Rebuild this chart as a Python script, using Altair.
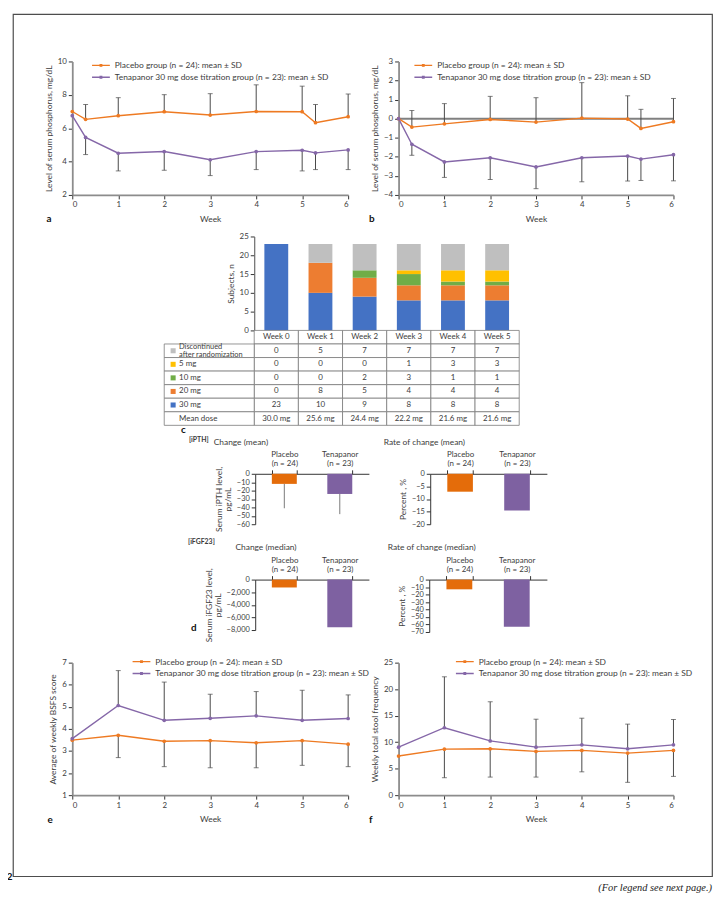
import altair as alt
import pandas as pd

FONT = "Lato"
TEXT = "#3c3c3c"
AXIS = "#6a6a6a"
ERR = "#484848"
ORANGE = "#EE7A22"
PURPLE = "#8567A8"
W, H = 707, 872

# ---------------- data ----------------
groups = ["Placebo group (n = 24): mean ± SD",
          "Tenapanor 30 mg dose titration group (n = 23): mean ± SD"]

weeks_ab = [0, 0.29, 1, 2, 3, 4, 5, 5.29, 6]
a_placebo = [7.0, 6.53, 6.75, 6.99, 6.79, 7.0, 6.99, 6.33, 6.69]
a_placebo_sd = [None, 0.89, 1.08, 1.02, 1.28, 1.6, 1.53, 1.09, 1.36]
a_tena = [6.75, 5.45, 4.5, 4.6, 4.11, 4.6, 4.68, 4.52, 4.7]
a_tena_sd = [None, 1.03, 1.06, 1.12, 0.95, 1.08, 1.24, 1.0, 1.18]

b_placebo = [0, -0.44, -0.27, -0.04, -0.18, 0.03, -0.02, -0.51, -0.16]
b_placebo_sd = [None, 0.87, 1.06, 1.21, 1.28, 1.86, 1.22, 1.0, 1.22]
b_tena = [0, -1.34, -2.27, -2.05, -2.53, -2.05, -1.96, -2.12, -1.89]
b_tena_sd = [None, 0.58, 0.81, 1.14, 1.14, 1.26, 1.31, 1.12, 1.37]

weeks_ef = [0, 1, 2, 3, 4, 5, 6]
e_placebo = [3.49, 3.71, 3.44, 3.47, 3.37, 3.47, 3.31]
e_placebo_sd = [None, 1.01, 1.15, 1.23, 1.13, 1.12, 1.02]
e_tena = [3.56, 5.06, 4.39, 4.48, 4.59, 4.39, 4.47]
e_tena_sd = [None, 1.58, 1.73, 1.09, 1.10, 1.36, 1.07]

f_placebo = [7.38, 8.68, 8.75, 8.25, 8.44, 7.94, 8.44]
f_placebo_sd = [None, 5.39, 5.34, 4.84, 4.04, 5.52, 4.9]
f_tena = [9.06, 12.72, 10.24, 9.06, 9.49, 8.75, 9.49]
f_tena_sd = [None, 9.61, 7.38, 5.27, 5.03, 4.65, 4.78]

weeks_c = ["Week 0", "Week 1", "Week 2", "Week 3", "Week 4", "Week 5"]
dose_labels = ["30 mg", "20 mg", "10 mg", "5 mg", "Discontinued after randomization"]
dose_colors = ["#4472C4", "#ED7D31", "#70AD47", "#FFC000", "#BFBFBF"]
n_30 = [23, 10, 9, 8, 8, 8]
n_20 = [0, 8, 5, 4, 4, 4]
n_10 = [0, 0, 2, 3, 1, 1]
n_5 = [0, 0, 0, 1, 3, 3]
n_disc = [0, 5, 7, 7, 7, 7]
mean_dose = ["30.0 mg", "25.6 mg", "24.4 mg", "22.2 mg", "21.6 mg", "21.6 mg"]

d_groups = ["Placebo", "Tenapanor"]
d_n = [24, 23]
ipth_change = [-12, -24]
ipth_change_sd = [29, 24]
ipth_rate = [-7.1, -14.6]
fgf_change = [-1250, -7550]
fgf_rate = [-13, -63]

# ---------------- helpers ----------------
# legend glyph: a line (wider than the nominal symbol box) with a small marker in the middle
SYM = "M-1.8,0L1.8,0M-0.15,-0.15L0.15,-0.15L0.15,0.15L-0.15,0.15Z"


def line_panel(weeks, pl, pl_sd, te, te_sd, dirs, xr, ydom, yr, yticks, ytitle, lx, ly, zero_line=False):
    rows = []
    for g, vals, sds, d in zip(groups, (pl, te), (pl_sd, te_sd), dirs):
        for w, v, s in zip(weeks, vals, sds):
            rows.append({"week": w, "value": v, "group": g,
                         "end": (v + d * s) if s is not None else None})
    df = pd.DataFrame(rows)
    err = df[df["end"].notna()]
    caps = err.assign(value=err["end"])
    xs = alt.Scale(domain=[0, 6], range=xr, nice=False, zero=False)
    ys = alt.Scale(domain=ydom, range=yr, nice=False, zero=False)
    x = alt.X("week:Q", scale=xs,
              axis=alt.Axis(orient="bottom", offset=yr[0] - H, values=list(range(7)),
                            title="Week", format="d", titlePadding=6,
                            domainColor="#8c8c8c", domainWidth=1.8))
    y = alt.Y("value:Q", scale=ys,
              axis=alt.Axis(orient="left", offset=-xr[0], values=yticks, title=ytitle, format="d",
                            domainColor="#8c8c8c", domainWidth=1.8))
    color = alt.Color("group:N", scale=alt.Scale(domain=groups, range=[ORANGE, PURPLE]),
                      legend=alt.Legend(orient="none", legendX=lx + 4, legendY=ly, title=None,
                                        symbolType=SYM, symbolSize=100, symbolStrokeWidth=1.4,
                                        labelFont=FONT, labelFontSize=8.5, labelColor=TEXT,
                                        labelOffset=8, rowPadding=1, padding=0, labelLimit=400))
    layers = []
    if zero_line:
        zdf = pd.DataFrame({"week": [0], "week2": [6], "value": [0]})
        layers.append(alt.Chart(zdf).mark_rule(color="#808080", strokeWidth=2).encode(
            x=x, x2="week2:Q", y=y))
    layers.append(alt.Chart(err).mark_rule(color=ERR, strokeWidth=1).encode(x=x, y=y, y2="end:Q"))
    layers.append(alt.Chart(caps).mark_tick(color=ERR, orient="horizontal", size=5, thickness=1).encode(
        x=x, y=y))
    layers.append(alt.Chart(df).mark_line(strokeWidth=1.4).encode(x=x, y=y, color=color))
    layers.append(alt.Chart(df).mark_point(filled=True, size=14, opacity=1).encode(x=x, y=y, color=color))
    return alt.layer(*layers)


def d_panel(vals, sds, xr, ydom, yr, yticks, fmt, ytitle):
    labels = [f"{g}\n(n = {n})" for g, n in zip(d_groups, d_n)]
    df = pd.DataFrame({"grp": labels, "value": vals,
                       "end": [v - s for v, s in zip(vals, sds)] if sds else vals})
    xs = alt.Scale(domain=labels, range=xr, paddingInner=0.55, paddingOuter=0.3)
    ys = alt.Scale(domain=ydom, range=yr, nice=False, zero=False)
    x = alt.X("grp:N", scale=xs, sort=labels,
              axis=alt.Axis(orient="top", offset=-yr[1], tickBand="extent", labelAngle=0,
                            labelExpr="split(datum.label, '\\n')", title=None,
                            labelLineHeight=9, labelPadding=11, labelFontSize=8,
                            domainColor="#333", tickColor="#333", domainWidth=1))
    y = alt.Y("value:Q", scale=ys,
              axis=alt.Axis(orient="left", offset=-xr[0], values=yticks, format=fmt,
                            title=ytitle, titleLineHeight=9, labelFontSize=7.5,
                            domainColor="#333", tickColor="#333", domainWidth=1))
    color = alt.Color("grp:N", scale=alt.Scale(domain=labels, range=["#E46C0A", "#7E61A1"]), legend=None)
    layers = [alt.Chart(df).mark_bar().encode(x=x, y=y, color=color)]
    if sds:
        layers.append(alt.Chart(df).mark_rule(color="#7a7a7a", strokeWidth=1).encode(x=x, y=y, y2="end:Q"))
    return alt.layer(*layers)


def label(txt, x, y, size=8, weight="normal", align="left", style="normal", font=FONT, color=TEXT):
    return alt.Chart(pd.DataFrame({"t": [txt]})).mark_text(
        align=align, baseline="middle", fontSize=size, fontWeight=weight,
        fontStyle=style, font=font, color=color).encode(x=alt.value(x), y=alt.value(y), text="t:N")


# ---------------- panels a, b, e, f ----------------
panel_a = line_panel(weeks_ab, a_placebo, a_placebo_sd, a_tena, a_tena_sd, (1, -1),
                     [60, 339], [2, 10], [183, 48], [2, 4, 6, 8, 10],
                     "Level of serum phosphorus, mg/dL", 79, 46)
panel_b = line_panel(weeks_ab, b_placebo, b_placebo_sd, b_tena, b_tena_sd, (1, -1),
                     [390, 668], [-4, 3], [183, 48], [-4, -3, -2, -1, 0, 1, 2, 3],
                     "Level of serum phosphorus, mg/dL", 405, 46, zero_line=True)
panel_e = line_panel(weeks_ef, e_placebo, e_placebo_sd, e_tena, e_tena_sd, (-1, 1),
                     [60, 339], [1, 7], [790, 656], [1, 2, 3, 4, 5, 6, 7],
                     "Average of weekly BSFS score", 120, 649)
panel_f = line_panel(weeks_ef, f_placebo, f_placebo_sd, f_tena, f_tena_sd, (-1, 1),
                     [390, 668], [0, 25], [790, 656], [0, 5, 10, 15, 20, 25],
                     "Weekly total stool frequency", 447, 649)

# ---------------- panel c: stacked bars ----------------
counts = [n_30, n_20, n_10, n_5, n_disc]
bar_rows = []
for k, (dose, cnt) in enumerate(zip(dose_labels, counts)):
    for wk, c in zip(weeks_c, cnt):
        bar_rows.append({"week": wk, "dose": dose, "count": c, "order": k})
bar_df = pd.DataFrame(bar_rows)

bars_c = alt.Chart(bar_df).mark_bar().encode(
    x=alt.X("week:N", sort=weeks_c,
            scale=alt.Scale(domain=weeks_c, range=[244, 512], paddingInner=0.46, paddingOuter=0.23),
            axis=None),
    y=alt.Y("count:Q", stack="zero",
            scale=alt.Scale(domain=[0, 25], range=[320, 225], nice=False),
            axis=alt.Axis(orient="left", offset=-244, values=[0, 5, 10, 15, 20, 25],
                          title="Subjects, n")),
    color=alt.Color("dose:N", scale=alt.Scale(domain=dose_labels, range=dose_colors), legend=None),
    order=alt.Order("order:Q"),
)

# table
table_rows = ["Week", "Discontinued after randomization", "5 mg", "10 mg", "20 mg", "30 mg", "Mean dose"]
row_values = {
    "Week": weeks_c,
    "Discontinued after randomization": [str(v) for v in n_disc],
    "5 mg": [str(v) for v in n_5],
    "10 mg": [str(v) for v in n_10],
    "20 mg": [str(v) for v in n_20],
    "30 mg": [str(v) for v in n_30],
    "Mean dose": mean_dose,
}
cell_rows = []
for r in table_rows:
    for wk, txt in zip(weeks_c, row_values[r]):
        cell_rows.append({"week": wk, "row": r, "txt": txt})
cell_df = pd.DataFrame(cell_rows)

TROW_RANGE = [320, 416]
LCOL_RANGE = [153, 244]
xt = alt.X("week:N", sort=weeks_c,
           scale=alt.Scale(domain=weeks_c, range=[244, 512], paddingInner=0, paddingOuter=0), axis=None)
yt = alt.Y("row:N", sort=table_rows,
           scale=alt.Scale(domain=table_rows, range=TROW_RANGE, paddingInner=0, paddingOuter=0), axis=None)
table_vals = alt.layer(
    alt.Chart(cell_df).mark_rect(fill="white", stroke="#7a7a7a", strokeWidth=0.8).encode(x=xt, y=yt),
    alt.Chart(cell_df).mark_text(font=FONT, fontSize=8, color=TEXT).encode(x=xt, y=yt, text="txt:N"),
)

lab_rows = table_rows[1:]
lab_colors = {d: c for d, c in zip(dose_labels, dose_colors)}
lab_df = pd.DataFrame({"col": ["label"] * len(lab_rows), "row": lab_rows})
one_line = lab_df[~lab_df["row"].str.contains(" after")]
two_line = lab_df[lab_df["row"].str.contains(" after")].assign(
    disp=lambda d: d["row"].str.replace(" after", "\nafter"))
sq_df = pd.DataFrame({"col": ["label"] * 5, "row": lab_rows[:5],
                      "clr": [lab_colors[r] for r in lab_rows[:5]]})
xl = alt.X("col:N", scale=alt.Scale(domain=["label"], range=LCOL_RANGE, paddingInner=0, paddingOuter=0),
           axis=None)
yl = alt.Y("row:N", sort=table_rows,
           scale=alt.Scale(domain=table_rows, range=TROW_RANGE, paddingInner=0, paddingOuter=0), axis=None)
xl0 = alt.X("col:N", bandPosition=0,
            scale=alt.Scale(domain=["label"], range=LCOL_RANGE, paddingInner=0, paddingOuter=0), axis=None)
table_labels = alt.layer(
    alt.Chart(lab_df).mark_rect(fill="white", stroke="#7a7a7a", strokeWidth=0.8).encode(x=xl, y=yl),
    alt.Chart(sq_df).mark_square(size=26, opacity=1, xOffset=9).encode(
        x=xl0, y=yl, color=alt.Color("clr:N", scale=None)),
    alt.Chart(one_line).mark_text(font=FONT, fontSize=8, color=TEXT, align="left", dx=15).encode(
        x=xl0, y=yl, text="row:N"),
    alt.Chart(two_line).mark_text(font=FONT, fontSize=7.5, color=TEXT, align="left", dx=15, dy=-3.5,
                                  lineBreak="\n", lineHeight=7.8).encode(x=xl0, y=yl, text="disp:N"),
)

# ---------------- panel d ----------------
d1 = d_panel(ipth_change, ipth_change_sd, [245, 360], [-60, 0], [516, 465],
             [0, -10, -20, -30, -40, -50, -60], "d", ["Serum iPTH level,", "pg/mL"])
d2 = d_panel(ipth_rate, None, [422, 540], [-20, 0], [516, 465],
             [0, -5, -10, -15, -20], "d", "Percent , %")
d3 = d_panel(fgf_change, None, [245, 360], [-8000, 0], [623, 572],
             [0, -2000, -4000, -6000, -8000], ",d", ["Serum iFGF23 level,", "pg/mL"])
d4 = d_panel(fgf_rate, None, [421, 540], [-70, 0], [625, 572],
             [0, -10, -20, -30, -40, -50, -60, -70], "d", "Percent , %")

# ---------------- annotations ----------------
annots = [
    label("a", 34, 207, size=10, weight="bold", color="#111"),
    label("b", 360, 207, size=10, weight="bold", color="#111"),
    label("c", 170, 421, size=10, weight="bold", color="#111"),
    label("d", 180, 621, size=10, weight="bold", color="#111"),
    label("e", 35, 815, size=10, weight="bold", color="#111"),
    label("f", 360, 815, size=10, weight="bold", color="#111"),
    label("[iPTH]", 178, 431, size=7, weight="bold"),
    label("Change (mean)", 203, 433, size=8.5),
    label("Rate of change (mean)", 375, 433, size=8.5),
    label("[iFGF23]", 177, 534, size=7, weight="bold"),
    label("Change (median)", 225, 539, size=8.5),
    label("Rate of change (median)", 379, 539, size=8.5),
    label("2", -0.5, 873, size=10, weight="bold", align="right", color="#111"),
    label("(For legend see next page.)", 707, 884, size=10.5, style="italic",
          align="right", font="Liberation Serif", color="#222"),
]

chart = alt.layer(
    panel_a, panel_b, bars_c, table_vals, table_labels, d1, d2, d3, d4, panel_e, panel_f, *annots
).resolve_scale(
    x="independent", y="independent", color="independent"
).resolve_axis(
    x="independent", y="independent"
).resolve_legend(
    color="independent"
).properties(
    width=W, height=H,
    autosize=alt.AutoSizeParams(type="none"),
    padding={"left": 5, "top": 1, "right": 2, "bottom": 22},
).configure_view(
    stroke="#4d4d4d", strokeWidth=1.2
).configure_axis(
    labelFont=FONT, labelFontSize=8, labelColor=TEXT,
    titleFont=FONT, titleFontSize=8.5, titleFontWeight="normal", titleColor=TEXT,
    domainColor=AXIS, tickColor="#333", domainWidth=1.2, tickSize=4, grid=False,
    labelPadding=2, titlePadding=4,
)

chart.save("out.html", embed_options={"renderer": "svg", "actions": False})
